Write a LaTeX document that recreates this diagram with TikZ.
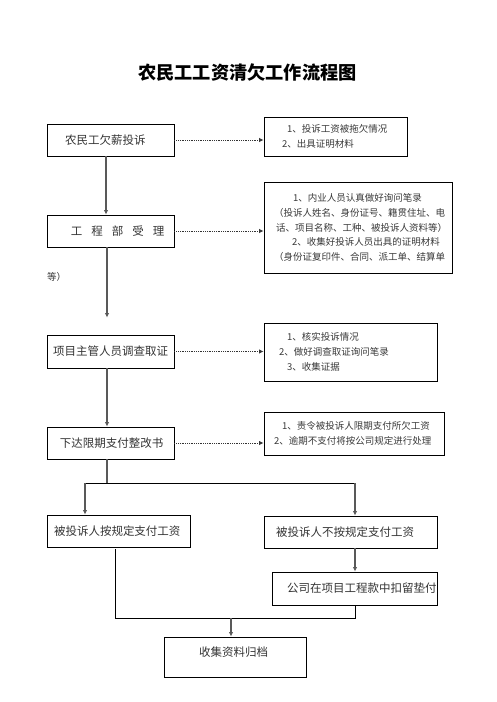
\documentclass[tikz,border=0pt]{standalone}
\usepackage{fontspec}
\setmainfont{Noto Sans CJK SC}
\usetikzlibrary{arrows.meta}
\begin{document}
\begin{tikzpicture}[x=1pt,y=-1pt,
  box/.style={draw=black, line width=0.9pt, align=left, inner xsep=0pt, inner ysep=0pt,
    text=black!80, font=\fontsize{11.5}{14}\selectfont},
  rbox/.style={draw=black, line width=0.9pt, align=left, inner xsep=0pt, inner ysep=0pt,
    text=black!78, font=\fontsize{9.5}{14.75}\selectfont},
  varr/.style={draw=black!65, line width=1.1pt, -{Latex[length=4.5pt,width=4.5pt]}},
  vline/.style={draw=black!65, line width=1.1pt},
  hline/.style={draw=black, line width=0.8pt},
  darr/.style={draw=black!80, line width=0.8pt, densely dotted, -{Latex[length=4.5pt,width=4.5pt]}}
]
\useasboundingbox (0,0) rectangle (496,702);

\node[font=\fontsize{18.2}{22}\selectfont\bfseries] (title) at (247.5,73) {农民工工资清欠工作流程图};

% left column
\node[box, text width=127pt, minimum height=32pt] (b1) at (110.5,140) {\hspace*{18pt}农民工欠薪投诉};
\node[box, text width=127pt, minimum height=32pt] (b2) at (110.5,231) {\hspace*{24pt}工\hspace{9pt}程\hspace{9pt}部\hspace{9pt}受\hspace{9pt}理};
\node[box, text width=127pt, minimum height=33pt] (b3) at (110.5,351.5) {\hspace*{6pt}项目主管人员调查取证};
\node[box, text width=127pt, minimum height=32pt] (b4) at (110.5,443) {\hspace*{13pt}下达限期支付整改书};

% right column
\node[rbox, text width=143pt, minimum height=39pt] (r1) at (335.5,136.5)
  {\hspace*{23pt}1、投诉工资被拖欠情况\\\hspace*{18pt}2、出具证明材料};
\node[rbox, text width=188pt, minimum height=91pt] (r2) at (358,227.5)
  {\hspace*{29pt}1、内业人员认真做好询问笔录\\
   \hspace*{10pt}（投诉人姓名、身份证号、籍贯住址、电\\
   \hspace*{12pt}话、项目名称、工种、被投诉人资料等）\\
   \hspace*{28pt}2、收集好投诉人员出具的证明材料\\
   \hspace*{10pt}（身份证复印件、合同、派工单、结算单};
\node[anchor=west, inner sep=0pt, text=black!78, font=\fontsize{9.5}{12}\selectfont] (etc) at (47,277) {等）};
\node[rbox, text width=173pt, minimum height=58pt] (r3) at (350.5,352)
  {\hspace*{23pt}1、核实投诉情况\\\hspace*{15pt}2、做好调查取证询问笔录\\\hspace*{23pt}3、收集证据};
\node[rbox, text width=180pt, minimum height=43pt] (r4) at (354,433.5)
  {\hspace*{18pt}1、责令被投诉人限期支付所欠工资\\\hspace*{10pt}2、逾期不支付将按公司规定进行处理};

% lower part
\node[box, text width=143pt, minimum height=32pt] (b5) at (118.5,531) {\hspace*{7pt}被投诉人按规定支付工资};
\node[box, text width=173pt, minimum height=32pt] (b6) at (350.5,532) {\hspace*{12pt}被投诉人不按规定支付工资};
\node[box, text width=165pt, minimum height=33pt] (b7) at (354.5,588.5) {\hspace*{15pt}公司在项目工程款中扣留垫付};
\node[box, text width=142pt, minimum height=40pt, text depth=11pt] (b8) at (235,657) {\hspace*{35pt}收集资料归档};

% vertical flow
\draw[varr] ([xshift=-4.5pt]b1.south) -- ([xshift=-4.5pt]b2.north);
\draw[varr] ([xshift=-3.5pt]b2.south) -- ([xshift=-3.5pt,yshift=17pt]b3.north);
\draw[varr] ([xshift=-3.5pt]b3.south) -- ([xshift=-3.5pt]b4.north);

% dotted side arrows
\draw[darr] (b1.east) -- (b1.east -| r1.west);
\draw[darr] (b2.east) -- (b2.east -| r2.west);
\draw[darr] (b3.east) -- (b3.east -| r3.west);
\draw[darr] (b4.east) -- (b4.east -| r4.west);

% branch
\coordinate (bm) at (107,483);
\coordinate (bl) at (85,483);
\coordinate (brt) at (355,483);
\draw[vline] ([xshift=-3.5pt]b4.south) -- (bm);
\draw[hline] (bl) -- (brt);
\draw[varr] (bl) -- (bl |- b5.north);
\draw[varr] (brt) -- (brt |- b6.north);
\draw[varr] ([xshift=4.5pt]b6.south) -- ([xshift=0.5pt]b7.north);

% merge
\coordinate (ml) at (115,618);
\coordinate (mr) at (355,618);
\coordinate (mm) at (231,618);
\draw[hline] ([xshift=-3.5pt,yshift=-2pt]b5.south) -- (ml) -- (mr) -- ([xshift=0.5pt]b7.south);
\draw[varr] (mm) -- (mm |- b8.north);
\end{tikzpicture}
\end{document}
